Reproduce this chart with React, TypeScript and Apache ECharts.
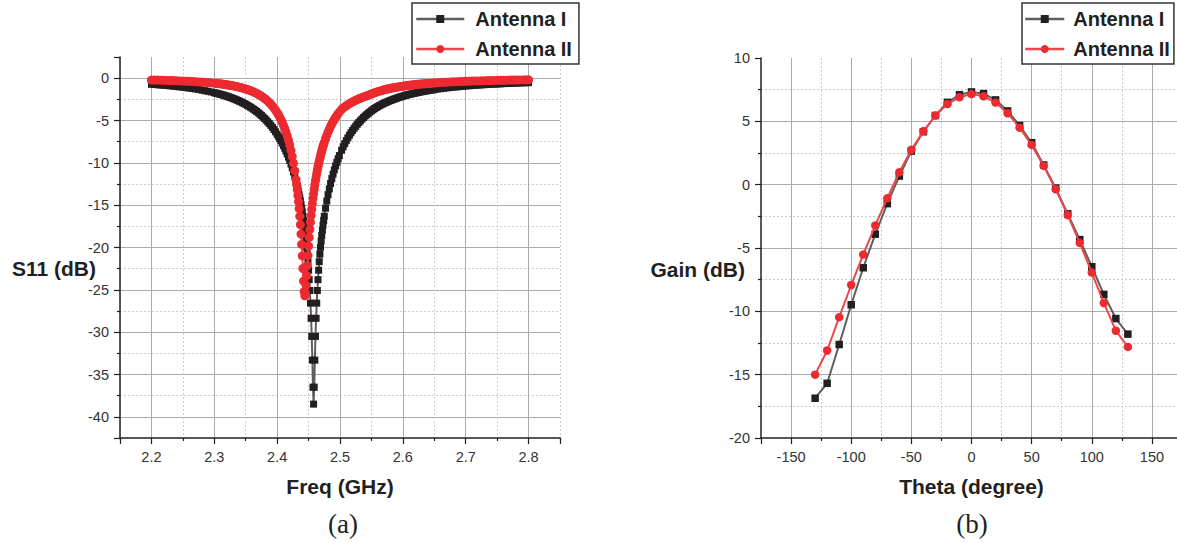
import React, { useEffect, useRef } from "react";
import * as echarts from "echarts";

// ---------- (a) S11 vs frequency ----------
const freqGHz = [
  2.200, 2.205, 2.210, 2.215, 2.220, 2.225, 2.230, 2.235, 2.240, 2.245,
  2.250, 2.255, 2.260, 2.265, 2.270, 2.275, 2.280, 2.285, 2.290, 2.295,
  2.300, 2.3025, 2.305, 2.3075, 2.310, 2.3125, 2.315, 2.3175, 2.320, 2.3225,
  2.325, 2.3275, 2.330, 2.3325, 2.335, 2.3375, 2.340, 2.3425, 2.345, 2.3475,
  2.350, 2.3525, 2.355, 2.3575, 2.360, 2.3625, 2.365, 2.3675, 2.370, 2.3725,
  2.375, 2.3775, 2.380, 2.3825, 2.385, 2.3875, 2.390, 2.3925, 2.395, 2.3975,
  2.400, 2.402, 2.404, 2.406, 2.408, 2.410, 2.412, 2.414, 2.416, 2.418,
  2.420, 2.422, 2.424, 2.426, 2.428,
  2.430, 2.431, 2.432, 2.433, 2.434,
  2.435, 2.436, 2.437, 2.438, 2.439, 2.440, 2.441, 2.442, 2.443, 2.444,
  2.445, 2.446, 2.447, 2.448, 2.449, 2.450, 2.451, 2.452, 2.453, 2.454,
  2.455, 2.456, 2.457, 2.458, 2.459, 2.460, 2.461, 2.462, 2.463, 2.464,
  2.465, 2.466, 2.467, 2.468, 2.469, 2.470, 2.471, 2.472, 2.473, 2.474,
  2.475,
  2.477, 2.479, 2.481, 2.483, 2.485, 2.487, 2.489, 2.491, 2.493, 2.495, 2.497, 2.499,
  2.5025, 2.505, 2.5075, 2.510, 2.5125, 2.515, 2.5175, 2.520, 2.5225, 2.525,
  2.5275, 2.530, 2.5325, 2.535, 2.5375, 2.540, 2.5425, 2.545, 2.5475, 2.550,
  2.5525, 2.555, 2.5575, 2.560, 2.5625, 2.565, 2.5675, 2.570, 2.5725, 2.575,
  2.5775, 2.580, 2.5825, 2.585, 2.5875, 2.590, 2.5925, 2.595, 2.5975, 2.600,
  2.6025, 2.605, 2.6075, 2.610, 2.6125, 2.615, 2.6175, 2.620, 2.6225, 2.625,
  2.6275, 2.630, 2.6325, 2.635, 2.6375, 2.640, 2.6425, 2.645, 2.6475, 2.650,
  2.655, 2.660, 2.665, 2.670, 2.675, 2.680, 2.685, 2.690, 2.695, 2.700,
  2.705, 2.710, 2.715, 2.720, 2.725, 2.730, 2.735, 2.740, 2.745, 2.750,
  2.755, 2.760, 2.765, 2.770, 2.775, 2.780, 2.785, 2.790, 2.795, 2.800,
];

const s11AntennaI = [
  -0.73, -0.75, -0.78, -0.81, -0.84, -0.87, -0.91, -0.95, -0.99, -1.03,
  -1.07, -1.12, -1.17, -1.22, -1.28, -1.34, -1.41, -1.48, -1.55, -1.63,
  -1.72, -1.76, -1.81, -1.86, -1.91, -1.96, -2.02, -2.08, -2.14, -2.20,
  -2.26, -2.33, -2.40, -2.48, -2.55, -2.63, -2.72, -2.80, -2.90, -2.99,
  -3.09, -3.20, -3.31, -3.42, -3.54, -3.67, -3.80, -3.94, -4.09, -4.24,
  -4.40, -4.58, -4.76, -4.95, -5.15, -5.36, -5.58, -5.82, -6.07, -6.34,
  -6.63, -6.87, -7.12, -7.38, -7.66, -7.96, -8.27, -8.60, -8.95, -9.33,
  -9.72, -10.14, -10.59, -11.08, -11.60,
  -12.15, -12.44, -12.75, -13.08, -13.41,
  -13.76, -14.13, -14.52, -14.93, -15.36, -15.81, -16.30, -16.81, -17.35, -17.94,
  -18.57, -19.24, -19.98, -20.79, -21.68, -22.68, -23.80, -25.08, -26.57, -28.36,
  -30.50, -33.30, -36.50, -38.50, -36.50, -33.30, -30.50, -28.36, -26.57, -25.08,
  -23.80, -22.68, -21.68, -20.79, -19.98, -19.24, -18.57, -17.94, -17.35, -16.81,
  -16.30,
  -15.36, -14.52, -13.76, -13.08, -12.44, -11.86, -11.33, -10.83, -10.36, -9.93, -9.52, -9.14,
  -8.52, -8.11, -7.74, -7.38, -7.05, -6.74, -6.45, -6.18, -5.92, -5.68,
  -5.45, -5.23, -5.03, -4.83, -4.65, -4.47, -4.31, -4.15, -4.00, -3.86,
  -3.72, -3.59, -3.47, -3.36, -3.25, -3.15, -3.06, -2.97, -2.88, -2.80,
  -2.72, -2.64, -2.57, -2.50, -2.43, -2.36, -2.30, -2.24, -2.18, -2.13,
  -2.07, -2.02, -1.97, -1.92, -1.88, -1.83, -1.79, -1.75, -1.71, -1.67,
  -1.63, -1.60, -1.56, -1.53, -1.50, -1.46, -1.43, -1.40, -1.37, -1.35,
  -1.29, -1.24, -1.20, -1.15, -1.11, -1.07, -1.03, -1.00, -0.96, -0.93,
  -0.90, -0.87, -0.85, -0.82, -0.79, -0.77, -0.75, -0.73, -0.71, -0.69,
  -0.67, -0.65, -0.63, -0.62, -0.60, -0.59, -0.57, -0.56, -0.54, -0.53,
];

const s11AntennaII = [
  -0.22, -0.22, -0.23, -0.24, -0.25, -0.27, -0.28, -0.29, -0.30, -0.32,
  -0.34, -0.35, -0.37, -0.39, -0.41, -0.44, -0.46, -0.49, -0.52, -0.55,
  -0.59, -0.61, -0.63, -0.65, -0.67, -0.70, -0.72, -0.75, -0.78, -0.81,
  -0.84, -0.87, -0.91, -0.94, -0.98, -1.02, -1.07, -1.11, -1.17, -1.22,
  -1.28, -1.34, -1.40, -1.47, -1.54, -1.63, -1.71, -1.80, -1.90, -2.01,
  -2.13, -2.26, -2.39, -2.54, -2.71, -2.88, -3.08, -3.29, -3.53, -3.78,
  -4.07, -4.32, -4.59, -4.88, -5.20, -5.55, -5.94, -6.36, -6.82, -7.33,
  -7.90, -8.53, -9.24, -10.04, -10.94,
  -11.98, -12.56, -13.19, -13.87, -14.61,
  -15.42, -16.32, -17.31, -18.41, -19.64, -21.00, -22.48, -23.97, -25.20, -25.70,
  -25.37, -24.49, -23.34, -22.13, -20.94, -19.83, -18.81, -17.88, -17.02, -16.23,
  -15.51, -14.84, -14.22, -13.64, -13.10, -12.60, -12.12, -11.68, -11.25, -10.86,
  -10.48, -10.12, -9.79, -9.46, -9.16, -8.86, -8.59, -8.32, -8.06, -7.82,
  -7.59,
  -7.15, -6.75, -6.37, -6.03, -5.71, -5.41, -5.14, -4.88, -4.64, -4.42, -4.21, -4.01,
  -3.70, -3.51, -3.38, -3.26, -3.12, -3.01, -2.90, -2.80, -2.70, -2.61,
  -2.53, -2.44, -2.37, -2.28, -2.22, -2.16, -2.09, -2.02, -1.94, -1.87,
  -1.79, -1.73, -1.66, -1.60, -1.54, -1.49, -1.43, -1.38, -1.34, -1.29,
  -1.25, -1.21, -1.17, -1.13, -1.10, -1.06, -1.03, -1.00, -0.97, -0.94,
  -0.92, -0.89, -0.86, -0.84, -0.82, -0.80, -0.77, -0.75, -0.73, -0.72,
  -0.70, -0.68, -0.66, -0.65, -0.63, -0.62, -0.60, -0.59, -0.57, -0.56,
  -0.54, -0.51, -0.49, -0.47, -0.45, -0.43, -0.42, -0.40, -0.38, -0.37,
  -0.36, -0.34, -0.33, -0.32, -0.31, -0.30, -0.29, -0.28, -0.27, -0.26,
  -0.25, -0.25, -0.24, -0.23, -0.22, -0.22, -0.21, -0.21, -0.20, -0.19,
];

// ---------- (b) Gain vs theta ----------
const thetaDeg = [
  -130, -120, -110, -100, -90, -80, -70, -60, -50, -40, -30, -20, -10, 0,
  10, 20, 30, 40, 50, 60, 70, 80, 90, 100, 110, 120, 130,
];
const gainAntennaI = [
  -16.86, -15.68, -12.62, -9.48, -6.56, -3.91, -1.5, 0.68, 2.65, 4.18, 5.46, 6.5, 7.1, 7.32,
  7.19, 6.69, 5.82, 4.67, 3.31, 1.56, -0.27, -2.3, -4.34, -6.48, -8.66, -10.57, -11.8,
];
const gainAntennaII = [
  -15.0, -13.09, -10.46, -7.92, -5.52, -3.22, -1.07, 0.98, 2.76, 4.23, 5.46, 6.37, 6.9, 7.15,
  6.98, 6.48, 5.64, 4.5, 3.14, 1.48, -0.36, -2.4, -4.6, -6.94, -9.34, -11.53, -12.81,
];

const seriesNames = ["Antenna I", "Antenna II"];

const FONT = "'Liberation Sans', Arial, Helvetica, sans-serif";
const INK = "#231f20";
const RED = "#ec2a2f";
const RED_LINE = "#e9484d";
const GRAY_LINE = "#5e5e5e";

const majorOnly = (step: number) => (v: number) => {
  const k = v / step;
  if (Math.abs(k - Math.round(k)) > 1e-6) return "";
  return String(parseFloat(v.toFixed(3)));
};

function makeAxis(gridIndex: number, min: number, max: number, step: number, extra: any = {}) {
  return {
    type: "value",
    gridIndex,
    min,
    max,
    minInterval: step,
    maxInterval: step,
    splitNumber: Math.round((max - min) / step),
    axisLine: { show: true, onZero: false, lineStyle: { color: INK, width: 1.5 } },
    axisTick: { show: true, inside: false, length: 6, lineStyle: { color: INK, width: 1.2 } },
    minorTick: { show: true, splitNumber: 2, length: 3, lineStyle: { color: INK, width: 1.2 } },
    axisLabel: {
      show: true,
      margin: 11,
      color: "#333333",
      fontSize: 14.5,
      fontFamily: FONT,
      formatter: majorOnly(step),
      hideOverlap: false,
    },
    splitLine: {
      show: true,
      showMinLine: false,
      showMaxLine: false,
      lineStyle: { color: "#ababab", width: 1, type: "solid" },
    },
    minorSplitLine: { show: true, lineStyle: { color: "#cdcdcd", width: 1, type: [2, 2] } },
    ...extra,
  };
}

const nameStyle = { fontSize: 21, fontWeight: "bold", fontFamily: FONT, color: INK };

function legendFor(left: number, itemWidth: number, padding: number[], textPad: number) {
  return {
    show: true,
    orient: "vertical",
    left,
    top: 3,
    data: seriesNames,
    selectedMode: false,
    itemWidth,
    itemHeight: 10,
    itemGap: 10,
    padding,
    borderColor: "#333333",
    borderWidth: 1.5,
    backgroundColor: "#ffffff",
    align: "left",
    lineStyle: { width: 2.5 },
    textStyle: {
      fontSize: 20,
      fontWeight: "bold",
      fontFamily: FONT,
      color: INK,
      padding: [0, 0, 0, textPad],
    },
  };
}

function caption(text: string, x: number) {
  return {
    type: "text",
    x,
    y: 524,
    silent: true,
    style: {
      text,
      align: "center",
      verticalAlign: "middle",
      fontSize: 27,
      fontFamily: "'Liberation Serif', 'Times New Roman', serif",
      fill: INK,
    },
  };
}

function yTitle(text: string, x: number, y: number) {
  return {
    type: "text",
    x,
    y,
    silent: true,
    style: {
      text,
      align: "right",
      verticalAlign: "middle",
      fontSize: 21,
      fontWeight: "bold",
      fontFamily: FONT,
      fill: INK,
    },
  };
}

export default function App() {
  const ref = useRef<HTMLDivElement>(null);

  useEffect(() => {
    if (!ref.current) return;
    const chart = echarts.init(ref.current, null, { renderer: "svg" });

    const option: any = {
      animation: false,
      backgroundColor: "#ffffff",
      grid: [
        { left: 120, top: 57, width: 440, height: 381, containLabel: false, outerBoundsMode: "none" },
        { left: 761, top: 58, width: 421, height: 380, containLabel: false, outerBoundsMode: "none" },
      ],
      xAxis: [
        makeAxis(0, 2.15, 2.85, 0.1, {
          name: "Freq (GHz)",
          nameLocation: "middle",
          nameGap: 38,
          nameTextStyle: nameStyle,
        }),
        makeAxis(1, -175, 175, 50, {
          name: "Theta (degree)",
          nameLocation: "middle",
          nameGap: 38,
          nameTextStyle: nameStyle,
        }),
      ],
      yAxis: [makeAxis(0, -42.5, 2.5, 5), makeAxis(1, -20, 10, 5)],
      legend: [
        legendFor(412, 48, [6, 7, 5, 3], 6),
        legendFor(1022, 39, [6, 4, 5, 2], 4),
      ],
      graphic: [
        yTitle("S11 (dB)", 96, 268),
        yTitle("Gain (dB)", 745, 269),
        caption("(a)", 343),
        caption("(b)", 972),
      ],
      series: [
        {
          name: seriesNames[0],
          type: "line",
          xAxisIndex: 0,
          yAxisIndex: 0,
          data: freqGHz.map((f, i) => [f, s11AntennaI[i]]),
          symbol: "rect",
          symbolSize: 7,
          showSymbol: true,
          itemStyle: { color: INK },
          lineStyle: { color: GRAY_LINE, width: 2 },
          emphasis: { disabled: true },
          silent: true,
          z: 3,
        },
        {
          name: seriesNames[1],
          type: "line",
          xAxisIndex: 0,
          yAxisIndex: 0,
          data: freqGHz.map((f, i) => [f, s11AntennaII[i]]),
          symbol: "circle",
          symbolSize: 9,
          showSymbol: true,
          itemStyle: { color: RED },
          lineStyle: { color: RED_LINE, width: 2 },
          emphasis: { disabled: true },
          silent: true,
          z: 4,
        },
        {
          name: seriesNames[0],
          type: "line",
          xAxisIndex: 1,
          yAxisIndex: 1,
          data: thetaDeg.map((t, i) => [t, gainAntennaI[i]]),
          symbol: "rect",
          symbolSize: 7.5,
          showSymbol: true,
          itemStyle: { color: INK },
          lineStyle: { color: GRAY_LINE, width: 2 },
          emphasis: { disabled: true },
          silent: true,
          z: 3,
        },
        {
          name: seriesNames[1],
          type: "line",
          xAxisIndex: 1,
          yAxisIndex: 1,
          data: thetaDeg.map((t, i) => [t, gainAntennaII[i]]),
          symbol: "circle",
          symbolSize: 8.5,
          showSymbol: true,
          itemStyle: { color: RED },
          lineStyle: { color: RED_LINE, width: 2 },
          emphasis: { disabled: true },
          silent: true,
          z: 4,
        },
      ],
    };

    chart.setOption(option);
    return () => chart.dispose();
  }, []);

  return (
    <div
      ref={ref}
      style={{ position: "absolute", left: 0, top: 0, width: 1177, height: 543, background: "#ffffff" }}
    />
  );
}
